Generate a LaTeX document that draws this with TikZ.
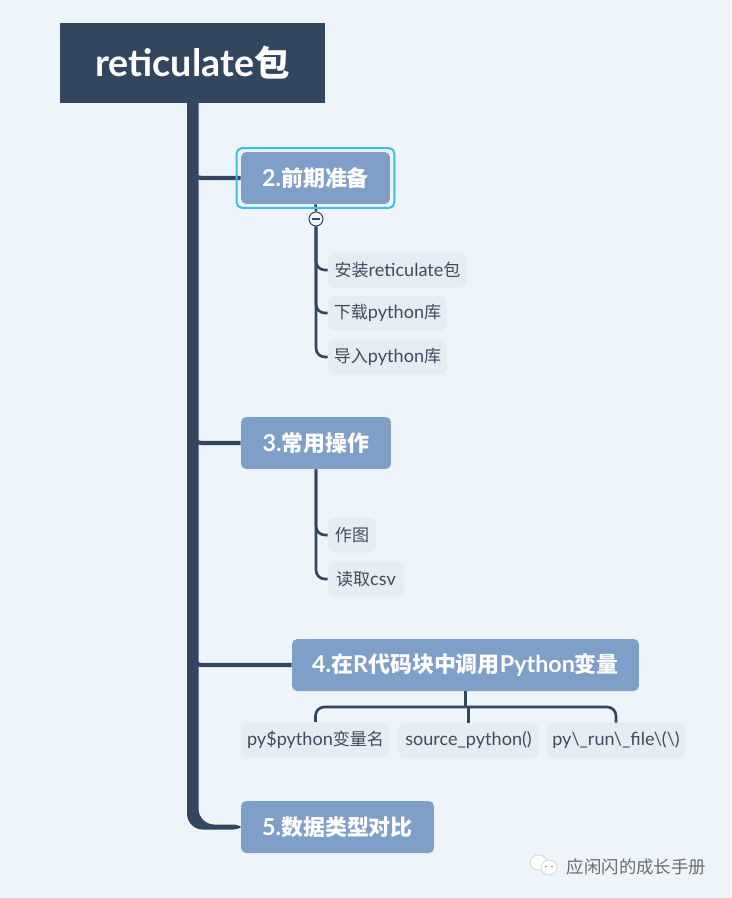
\documentclass[tikz,border=0pt]{standalone}
\usepackage{fontspec}
\setmainfont{Lato}[Scale=1.06]
\newfontfamily\cjk{Noto Sans CJK SC}
\newcommand{\zh}[1]{{\cjk #1}}
\usetikzlibrary{positioning, shapes.geometric}
\pgfdeclarelayer{boxes}
\pgfsetlayers{main,boxes}
\definecolor{pagebg}{HTML}{EDF4FA}
\definecolor{rootfill}{HTML}{33465F}
\definecolor{topicfill}{HTML}{7F9EC8}
\definecolor{leaffill}{HTML}{E6ECF3}
\definecolor{linecol}{HTML}{34465F}
\definecolor{leaftext}{HTML}{3F4C5E}
\definecolor{selectcol}{HTML}{3DBDEB}
\tikzset{
    root/.style={fill=rootfill, text=white, font=\bfseries\fontsize{20.2}{24}\selectfont, minimum width=5.3cm, minimum height=1.6cm, inner sep=0pt},
    topic/.style={fill=topicfill, text=white, font=\bfseries\fontsize{12.5}{15}\selectfont, rounded corners=3pt, minimum height=1.04cm, inner sep=0pt},
    leaf/.style={fill=leaffill, text=leaftext, font=\fontsize{9.7}{12}\selectfont, rounded corners=4pt, minimum height=0.7cm, inner sep=0pt},
    branch/.style={draw=linecol, line width=2.4pt, rounded corners=5pt},
    twig/.style={draw=linecol, line width=1.5pt, rounded corners=5pt},
    wechat/.style={ellipse, fill=white, draw=gray!45, line width=0.3pt, inner sep=0pt}
}
\begin{document}
\begin{tikzpicture}[x=0.02cm, y=-0.02cm]
    % Page
    \fill[pagebg] (0,0) rectangle (731,898);
    \useasboundingbox (0,0) rectangle (731,898);

    \begin{pgfonlayer}{boxes}
        % Root
        \node[root] (root) at (192.5,63) {reticulate\zh{包}};

        % Main topics
        \node[topic, minimum width=2.98cm] (prep) at (315.5,178) {2.\zh{前期准备}};
        \node[topic, minimum width=3.0cm] (ops) at (316,443) {3.\zh{常用操作}};
        \node[topic, minimum width=6.94cm] (call) at (465.5,665) {4.\zh{在}R\zh{代码块中调用}Python\zh{变量}};
        \node[topic, minimum width=3.86cm] (types) at (337.5,827) {5.\zh{数据类型对比}};

        % Selection frame
        \draw[selectcol, line width=1.1pt, rounded corners=3pt] ([shift={(-4,-3.5)}]prep.north west) rectangle ([shift={(4,3.5)}]prep.south east);

        % Leaves of topic 2
        \node[leaf, minimum width=2.78cm] (install) at (397.5,270) {\zh{安装}reticulate\zh{包}};
        \node[leaf, minimum width=2.38cm] (fetch) at (387.5,313) {\zh{下载}python\zh{库}};
        \node[leaf, minimum width=2.38cm] (load) at (387.5,357) {\zh{导入}python\zh{库}};

        % Leaves of topic 3
        \node[leaf, minimum width=0.96cm] (plot) at (352,535) {\zh{作图}};
        \node[leaf, minimum width=1.52cm] (csv) at (366,579) {\zh{读取}csv};

        % Leaves of topic 4
        \node[leaf, minimum width=2.98cm] (pyvar) at (315.5,740) {py\$python\zh{变量名}};
        \node[leaf, minimum width=2.82cm] (source) at (468.5,740.5) {source\_python()};
        \node[leaf, minimum width=2.76cm] (pyrun) at (616,740.5) {py\textbackslash\_run\textbackslash\_file\textbackslash(\textbackslash)};

        % Collapse button
        \node[circle, draw=linecol, fill=pagebg, line width=0.6pt, minimum size=0.28cm, inner sep=0pt] (fold) at (316,219) {};
        \draw[linecol, line width=0.6pt] ([shift={(-4,0)}]fold.center) -- ([shift={(4,0)}]fold.center);
    \end{pgfonlayer}

    % Trunk
    \fill[linecol, rounded corners=9pt] ([shift={(-5.5,-30)}]root.south) -- ([shift={(-5.5,2.5)}]root.south |- types.west) -- ([shift={(8,2.5)}]types.west) -- ([shift={(8,-2.5)}]types.west) -- ([shift={(6,-2.5)}]root.south |- types.west) -- ([shift={(6,-30)}]root.south) -- cycle;
    \draw[branch] (root.south) |- (prep.west);
    \draw[branch] (root.south) |- (ops.west);
    \draw[branch] (root.south) |- (call.west);

    % Twigs of topic 2
    \draw[twig] (prep.south) -- (fold.north);
    \draw[twig] (fold.south) |- (install.west);
    \draw[twig] (fold.south) |- (fetch.west);
    \draw[twig] (fold.south) |- (load.west);

    % Twigs of topic 3
    \draw[twig] (ops.south) |- (plot.west);
    \draw[twig] (ops.south) |- (csv.west);

    % Twigs of topic 4
    \coordinate (callfork) at (465.5,707);
    \draw[twig] (call.south) -- (callfork);
    \draw[twig] (pyvar.north) |- (callfork);
    \draw[twig] (pyrun.north) |- (callfork);
    \draw[twig] (source.north) -- (source.north |- callfork);

    % Watermark
    \node[wechat, minimum width=0.34cm, minimum height=0.3cm] (wechatback) at (538.5,862.5) {};
    \node[wechat, minimum width=0.32cm, minimum height=0.3cm] (wechatfront) at (549,867.5) {};
    \fill[gray] ([shift={(-3,-1)}]wechatfront.center) circle (0.5pt);
    \fill[gray] ([shift={(3,-1)}]wechatfront.center) circle (0.5pt);
    \node[text=gray!85!black, font=\cjk\fontsize{9.9}{12}\selectfont, inner sep=0pt] (mark) at (636.5,866.5) {应闲闪的成长手册};
\end{tikzpicture}
\end{document}
